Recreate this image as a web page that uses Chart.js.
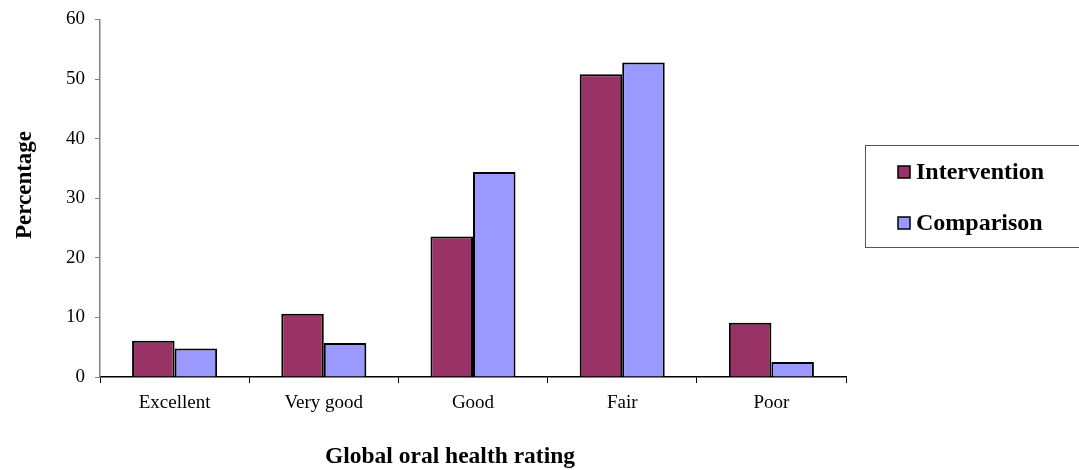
<!DOCTYPE html>
<html>
<head>
<meta charset="utf-8">
<script src="https://cdn.jsdelivr.net/npm/chart.js@4/dist/chart.umd.min.js"></script>
<style>
  html, body { margin: 0; padding: 0; background: #fff; }
  #wrap { width: 1079px; height: 470px; }
</style>
</head>
<body>
<div id="wrap"><canvas id="ratingChart" width="1079" height="470"></canvas></div>
<script>
var categories = ['Excellent', 'Very good', 'Good', 'Fair', 'Poor'];
var intervention = [6.1, 10.6, 23.6, 50.8, 9.1];
var comparison = [4.8, 5.7, 34.4, 52.8, 2.5];
var seriesNames = ['Intervention', 'Comparison'];
var yTicks = [0, 10, 20, 30, 40, 50, 60];

var serif = '"Liberation Serif", "Times New Roman", serif';

// axis titles and the boxed legend on the right
var extras = {
	id: 'extras',
	afterDraw: function(chart){
		var ctx = chart.ctx;
		ctx.save();
		ctx.fillStyle = '#000';
		ctx.font = 'bold 23.5px ' + serif;
		ctx.textAlign = 'center';
		ctx.textBaseline = 'middle';
		ctx.fillText('Global oral health rating', 450, 457);

		ctx.font = 'bold 23px ' + serif;
		ctx.translate(25, 185);
		ctx.rotate(-Math.PI / 2);
		ctx.fillText('Percentage', 0, 0);
		ctx.restore();

		ctx.save();
		ctx.strokeStyle = '#555';
		ctx.lineWidth = 1;
		ctx.strokeRect(865.5, 145.5, 220, 102);
		var rowY = [172, 223];
		chart.data.datasets.forEach(function(ds, i){
			ctx.fillStyle = ds.backgroundColor;
			ctx.fillRect(898, rowY[i] - 6, 12, 12);
			ctx.strokeStyle = '#000';
			ctx.lineWidth = 1.5;
			ctx.strokeRect(898, rowY[i] - 6, 12, 12);
			ctx.fillStyle = '#000';
			ctx.font = 'bold 24px ' + serif;
			ctx.textAlign = 'left';
			ctx.textBaseline = 'middle';
			ctx.fillText(ds.label, 916, rowY[i] + 1);
		});
		ctx.restore();
	}
};

var ctx = document.getElementById('ratingChart').getContext('2d');
var chart = new Chart(ctx, {
	type: 'bar',
	data: {
		labels: categories,
		datasets: [{
			label: seriesNames[0],
			data: intervention,
			backgroundColor: '#993366',
			borderColor: '#000',
			borderWidth: 2
		}, {
			label: seriesNames[1],
			data: comparison,
			backgroundColor: '#9999FF',
			borderColor: '#000',
			borderWidth: 2
		}]
	},
	options: {
		responsive: false,
		animation: false,
		layout: { padding: { left: 0, top: 19, right: 233, bottom: 0 } },
		plugins: {
			legend: { display: false },
			tooltip: { enabled: false }
		},
		datasets: {
			bar: { categoryPercentage: 0.57, barPercentage: 1 }
		},
		scales: {
			x: {
				afterFit: function(s){ s.height = 93; },
				grid: { offset: true, drawOnChartArea: false, drawTicks: true, tickLength: 6, color: '#000' },
				border: { color: '#000', width: 1.5 },
				ticks: { color: '#000', padding: 9, font: { family: serif, size: 19 } }
			},
			y: {
				min: 0,
				max: 60,
				afterFit: function(s){ s.width = 100; },
				afterBuildTicks: function(s){
					s.ticks = yTicks.map(function(v){ return { value: v }; });
				},
				grid: { drawOnChartArea: false, drawTicks: true, tickLength: 5, color: '#808080' },
				border: { color: '#808080', width: 1.5 },
				ticks: { color: '#000', padding: 10, font: { family: serif, size: 19, lineHeight: 1 } }
			}
		}
	},
	plugins: [extras]
});
</script>
</body>
</html>
